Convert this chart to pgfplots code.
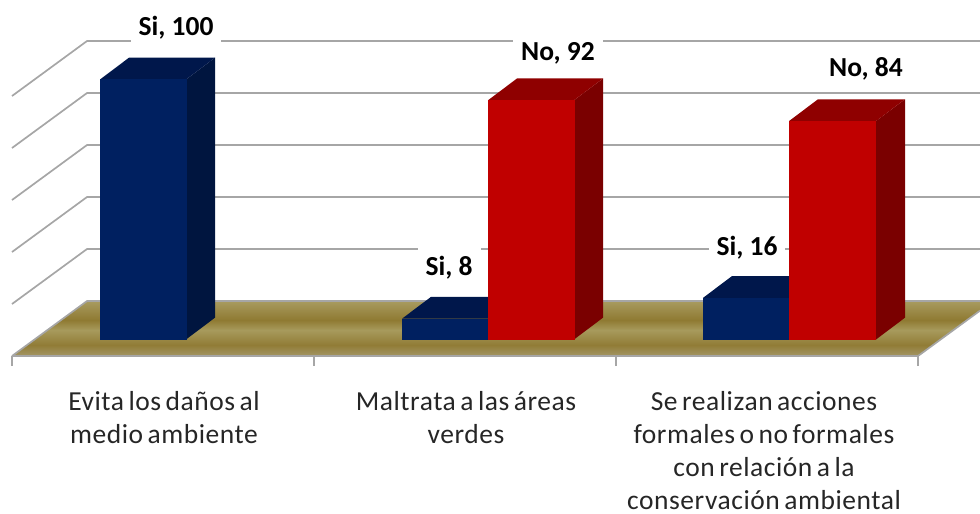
\documentclass[border=0pt]{standalone}
\usepackage{pgfplots}
\pgfplotsset{compat=1.18}
\usepackage{fontspec}
\setmainfont{Carlito}
\newfontfamily\catfont[LetterSpace=2]{Carlito}
\newcommand\catsel{\catfont\fontsize{27.5}{33.2}\selectfont}
\definecolor{fa}{HTML}{A89B60}
\definecolor{fb}{HTML}{8F7A32}
\definecolor{fc}{HTML}{A79A5C}
\definecolor{fd}{HTML}{917C36}
\definecolor{fe}{HTML}{A39665}
\definecolor{gridc}{HTML}{A6A6A6}
\definecolor{bF}{HTML}{002060}
\definecolor{bS}{HTML}{00153F}
\definecolor{bT}{HTML}{00174B}
\definecolor{rF}{HTML}{C00000}
\definecolor{rS}{HTML}{7A0000}
\definecolor{rT}{HTML}{8F0000}
\newcommand\tightspaces{\spaceskip 4.5pt\relax}
\pgfdeclareverticalshading{floorgrad}{100bp}{color(0bp)=(fe); color(25bp)=(fe); color(35bp)=(fd); color(48.6bp)=(fc); color(57.7bp)=(fb); color(75bp)=(fa); color(100bp)=(fa)}
\begin{document}
\begin{tikzpicture}
\path[use as bounding box] (0pt,-148pt) rectangle (980pt,366pt);
\begin{axis}[
  scale only axis, width=980pt, height=366pt,
  xmin=0, xmax=980, ymin=-10.19, ymax=130.58,
  axis line style={draw=none},
  ytick=\empty,
  xtick={164,466,764},
  xticklabels={{\tightspaces Evita los daños al\\\tightspaces medio ambiente},{\tightspaces Maltrata a las áreas\\verdes},{\tightspaces Se realizan acciones\\\tightspaces formales o no formales\\\tightspaces con relación a la\\\tightspaces conservación ambiental}},
  minor xtick={12,314,616,918},
  major tick length=0pt, minor tick length=10pt,
  tick align=inside, xtick pos=bottom,
  minor tick style={gridc, line width=1.7pt},
  x tick label style={align=center, text width=300pt, anchor=north, yshift=-21.5pt, font=\catsel, text=black!85},
  clip=true,
]
% grid lines
\addplot[gridc, line width=1.7pt] coordinates {(12,93.65)(87,114.8)(980,114.8)};
\addplot[gridc, line width=1.7pt] coordinates {(12,73.65)(87,94.8)(980,94.8)};
\addplot[gridc, line width=1.7pt] coordinates {(12,53.65)(87,74.8)(980,74.8)};
\addplot[gridc, line width=1.7pt] coordinates {(12,33.65)(87,54.8)(980,54.8)};
\addplot[gridc, line width=1.7pt] coordinates {(12,13.65)(87,34.8)(980,34.8)};
% floor
\addplot[shade, shading=floorgrad, draw=none] coordinates {(12,-6.35)(87,14.8)(993,14.8)(918,-6.35)} -- cycle;
\addplot[gridc, line width=1.7pt] coordinates {(12,-6.35)(87,14.8)(980,14.8)};
\addplot[gridc, line width=1.7pt] coordinates {(12,-6.35)(918,-6.35)(980,11.1)};
% Si, 100
\addplot[fill=bS, draw=none] coordinates {(186,0)(215,8.4)(215,108.4)(186,100)} -- cycle;
\addplot[fill=bT, draw=none] coordinates {(100,100)(129,108.4)(215,108.4)(186,100)} -- cycle;
\addplot[ybar, bar width=86pt, bar shift=0pt, fill=bF, draw=bF, line width=0.3pt] coordinates {(143,100)};
% Si, 8
\addplot[fill=bT, draw=none] coordinates {(402,8)(431,16.4)(517,16.4)(488,8)} -- cycle;
\addplot[ybar, bar width=86pt, bar shift=0pt, fill=bF, draw=bF, line width=0.3pt] coordinates {(445,8)};
% No, 92
\addplot[fill=rS, draw=none] coordinates {(574,0)(603,8.4)(603,100.4)(574,92)} -- cycle;
\addplot[fill=rT, draw=none] coordinates {(488,92)(517,100.4)(603,100.4)(574,92)} -- cycle;
\addplot[ybar, bar width=86pt, bar shift=0pt, fill=rF, draw=rF, line width=0.3pt] coordinates {(531,92)};
% Si, 16
\addplot[fill=bT, draw=none] coordinates {(703,16)(732,24.4)(818,24.4)(789,16)} -- cycle;
\addplot[ybar, bar width=86pt, bar shift=0pt, fill=bF, draw=bF, line width=0.3pt] coordinates {(746,16)};
% No, 84
\addplot[fill=rS, draw=none] coordinates {(876,0)(905,8.4)(905,92.4)(876,84)} -- cycle;
\addplot[fill=rT, draw=none] coordinates {(789,84)(818,92.4)(905,92.4)(876,84)} -- cycle;
\addplot[ybar, bar width=86pt, bar shift=0pt, fill=rF, draw=rF, line width=0.3pt] coordinates {(832.5,84)};
% labels
\tikzset{dl/.style={anchor=base, fill=white, inner ysep=0pt, inner xsep=8pt, text height=27pt, text depth=8pt, font=\fontsize{27.5}{30}\bfseries\selectfont}}
\node[dl] at (axis cs:176,117.1) {Si, 100};
\node[dl] at (axis cs:558,107.5) {No, 92};
\node[dl] at (axis cs:866,101.3) {No, 84};
\node[dl] at (axis cs:449,24.8) {Si, 8};
\node[dl] at (axis cs:747,32.5) {Si, 16};
\end{axis}
\end{tikzpicture}
\end{document}
